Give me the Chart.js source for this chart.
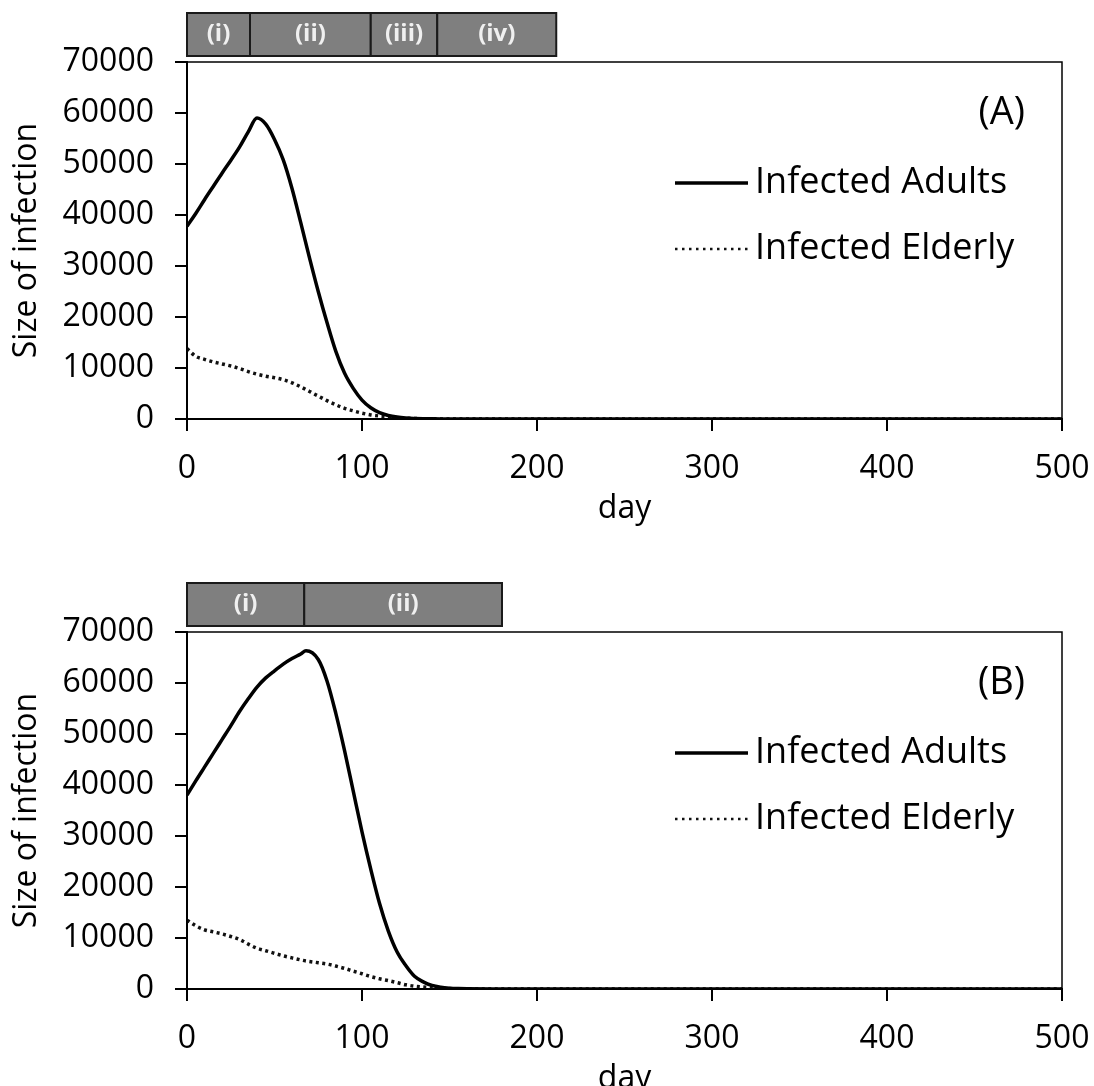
<!DOCTYPE html>
<html lang="en">
<head>
<meta charset="UTF-8" />
<title>Size of infection</title>
<script src="https://cdn.jsdelivr.net/npm/chart.js"></script>
<style>
  html, body { margin: 0; padding: 0; background: #fff; overflow: hidden; }
  body { width: 1094px; height: 1086px; }
  .panel { position: relative; width: 1094px; height: 570px; }
  .clip { width: 1094px; height: 516px; overflow: hidden; }
</style>
</head>
<body>
<div class="panel"><canvas id="chartA"></canvas></div>
<div class="clip"><div class="panel"><canvas id="chartB"></canvas></div></div>
<script>
// panel (A)
const daysA = [0, 5, 10, 15, 20, 25, 30, 35, 40, 45, 50, 55, 60, 65, 70, 75, 80, 85, 90, 95, 100,
  105, 110, 115, 120, 125, 130, 135, 140, 145, 150, 175, 200, 300, 400, 500];
const adultsA = [37800, 40300, 43000, 45600, 48200, 50700, 53300, 56300, 59000, 57800, 54800, 50800,
  45200, 38500, 31600, 25000, 18900, 13300, 9000, 6000, 3700, 2200, 1250, 700, 380, 200, 110, 60, 30,
  15, 8, 0, 0, 0, 0, 0];
const elderlyA = [13800, 12300, 11700, 11200, 10800, 10400, 9900, 9300, 8800, 8400, 8100, 7700, 7100,
  6300, 5400, 4500, 3600, 2800, 2100, 1600, 1150, 800, 580, 400, 260, 160, 100, 60, 35, 20, 10, 0, 0,
  0, 0, 0];
const phaseEdgesA = [0, 36, 105, 143, 211];
const phaseLabelsA = ['(i)', '(ii)', '(iii)', '(iv)'];

// panel (B)
const daysB = [0, 5, 10, 15, 20, 25, 30, 35, 40, 45, 50, 55, 60, 65, 68, 75, 80, 85, 90, 95, 100,
  105, 110, 115, 120, 125, 130, 135, 140, 145, 150, 155, 160, 175, 200, 300, 400, 500];
const adultsB = [38000, 40800, 43500, 46200, 48900, 51600, 54400, 56900, 59200, 61000, 62400, 63700,
  64800, 65700, 66300, 64600, 60400, 54100, 46800, 38800, 30800, 23500, 16800, 11400, 7300, 4600,
  2500, 1400, 700, 350, 170, 80, 40, 0, 0, 0, 0, 0];
const elderlyB = [13500, 12400, 11600, 11200, 10800, 10300, 9700, 8800, 8000, 7500, 7000, 6500, 6100,
  5700, 5500, 5150, 4900, 4500, 4050, 3500, 3000, 2450, 2000, 1650, 1250, 820, 550, 380, 250, 150, 80,
  40, 20, 0, 0, 0, 0, 0];
const phaseEdgesB = [0, 67, 180];
const phaseLabelsB = ['(i)', '(ii)'];

const seriesNames = ['Infected Adults', 'Infected Elderly'];
const yTicks = [0, 10000, 20000, 30000, 40000, 50000, 60000, 70000];
const xTicks = [0, 100, 200, 300, 400, 500];

Chart.defaults.font.family = '"Open Sans", sans-serif';
Chart.defaults.color = '#000';

const panelDecor = {
  id: 'panelDecor',
  afterDraw(chart, args, opts) {
    const { ctx, chartArea: a, scales: { x } } = chart;
    ctx.save();
    // frame round the plot
    ctx.strokeStyle = '#000';
    ctx.lineWidth = 1.5;
    ctx.strokeRect(a.left, a.top, a.right - a.left, a.bottom - a.top);

    // phase bar above the plot
    const top = a.top - 49, h = 43;
    for (let i = 0; i < opts.labels.length; i++) {
      const x0 = x.getPixelForValue(opts.edges[i]);
      const x1 = x.getPixelForValue(opts.edges[i + 1]);
      ctx.fillStyle = '#7f7f7f';
      ctx.fillRect(x0, top, x1 - x0, h);
      ctx.strokeStyle = '#1a1a1a';
      ctx.lineWidth = 2;
      ctx.strokeRect(x0, top, x1 - x0, h);
      ctx.fillStyle = '#f0f0f0';
      ctx.font = 'bold 24px "Open Sans"';
      ctx.textAlign = 'center';
      ctx.textBaseline = 'middle';
      ctx.fillText(opts.labels[i], (x0 + x1) / 2, top + h / 2);
    }

    // panel tag
    ctx.fillStyle = '#000';
    ctx.font = '38px "Open Sans"';
    ctx.textAlign = 'right';
    ctx.textBaseline = 'middle';
    ctx.fillText(opts.tag, a.right - 37, a.top + 51);

    // legend
    const legendY = [121, 187];
    chart.data.datasets.forEach((ds, i) => {
      const y = a.top + legendY[i];
      ctx.beginPath();
      ctx.setLineDash(i === 0 ? [] : [2.5, 4.5]);
      ctx.lineWidth = i === 0 ? 3.5 : 2.5;
      ctx.strokeStyle = ds.borderColor;
      ctx.moveTo(a.left + 488, y);
      ctx.lineTo(a.left + 561, y);
      ctx.stroke();
      ctx.setLineDash([]);
      ctx.fillStyle = '#000';
      ctx.font = '36px "Open Sans"';
      ctx.textAlign = 'left';
      ctx.fillText(ds.label, a.left + 568, y);
    });
    ctx.restore();
  }
};

function makeChart(id, days, adults, elderly, edges, labels, tag) {
  const ctx = document.getElementById(id).getContext('2d');
  return new Chart(ctx, {
    type: 'line',
    data: {
      datasets: [
        {
          label: seriesNames[0],
          data: days.map((d, i) => ({ x: d, y: adults[i] })),
          borderColor: '#000',
          borderWidth: 3.5,
          pointRadius: 0,
          cubicInterpolationMode: 'monotone',
          order: 0
        },
        {
          label: seriesNames[1],
          data: days.map((d, i) => ({ x: d, y: elderly[i] })),
          borderColor: '#111',
          borderWidth: 3.5,
          borderDash: [3, 3.5],
          pointRadius: 0,
          cubicInterpolationMode: 'monotone',
          order: 1
        }
      ]
    },
    options: {
      responsive: true,
      maintainAspectRatio: false,
      animation: false,
      layout: { padding: { top: 62, right: 32, bottom: 31, left: 0 } },
      plugins: {
        legend: { display: false },
        tooltip: { enabled: false },
        panelDecor: { edges: edges, labels: labels, tag: tag }
      },
      scales: {
        x: {
          type: 'linear',
          min: 0,
          max: 500,
          afterFit: s => { s.height = 120; s.paddingLeft = 0; s.paddingRight = 0; },
          afterBuildTicks: s => { s.ticks = xTicks.map(v => ({ value: v })); },
          grid: { drawOnChartArea: false, drawTicks: true, tickLength: 12, color: '#000', lineWidth: 2 },
          border: { display: true, color: '#000', width: 2 },
          ticks: { font: { size: 32 }, padding: 19, maxRotation: 0, callback: v => String(v) },
          title: { display: true, text: 'day', font: { size: 32 }, padding: { top: 0, bottom: 11 } }
        },
        y: {
          min: 0,
          max: 70000,
          afterFit: s => { s.width = 187; },
          afterBuildTicks: s => { s.ticks = yTicks.map(v => ({ value: v })); },
          grid: { drawOnChartArea: false, drawTicks: true, tickLength: 12, color: '#000', lineWidth: 2 },
          border: { display: true, color: '#000', width: 2 },
          ticks: { font: { size: 32 }, padding: 21, callback: v => String(v) },
          title: { display: true, text: 'Size of infection', font: { size: 32 }, padding: { top: 8, bottom: 0 } }
        }
      }
    },
    plugins: [panelDecor]
  });
}

makeChart('chartA', daysA, adultsA, elderlyA, phaseEdgesA, phaseLabelsA, '(A)');
makeChart('chartB', daysB, adultsB, elderlyB, phaseEdgesB, phaseLabelsB, '(B)');
</script>
</body>
</html>
